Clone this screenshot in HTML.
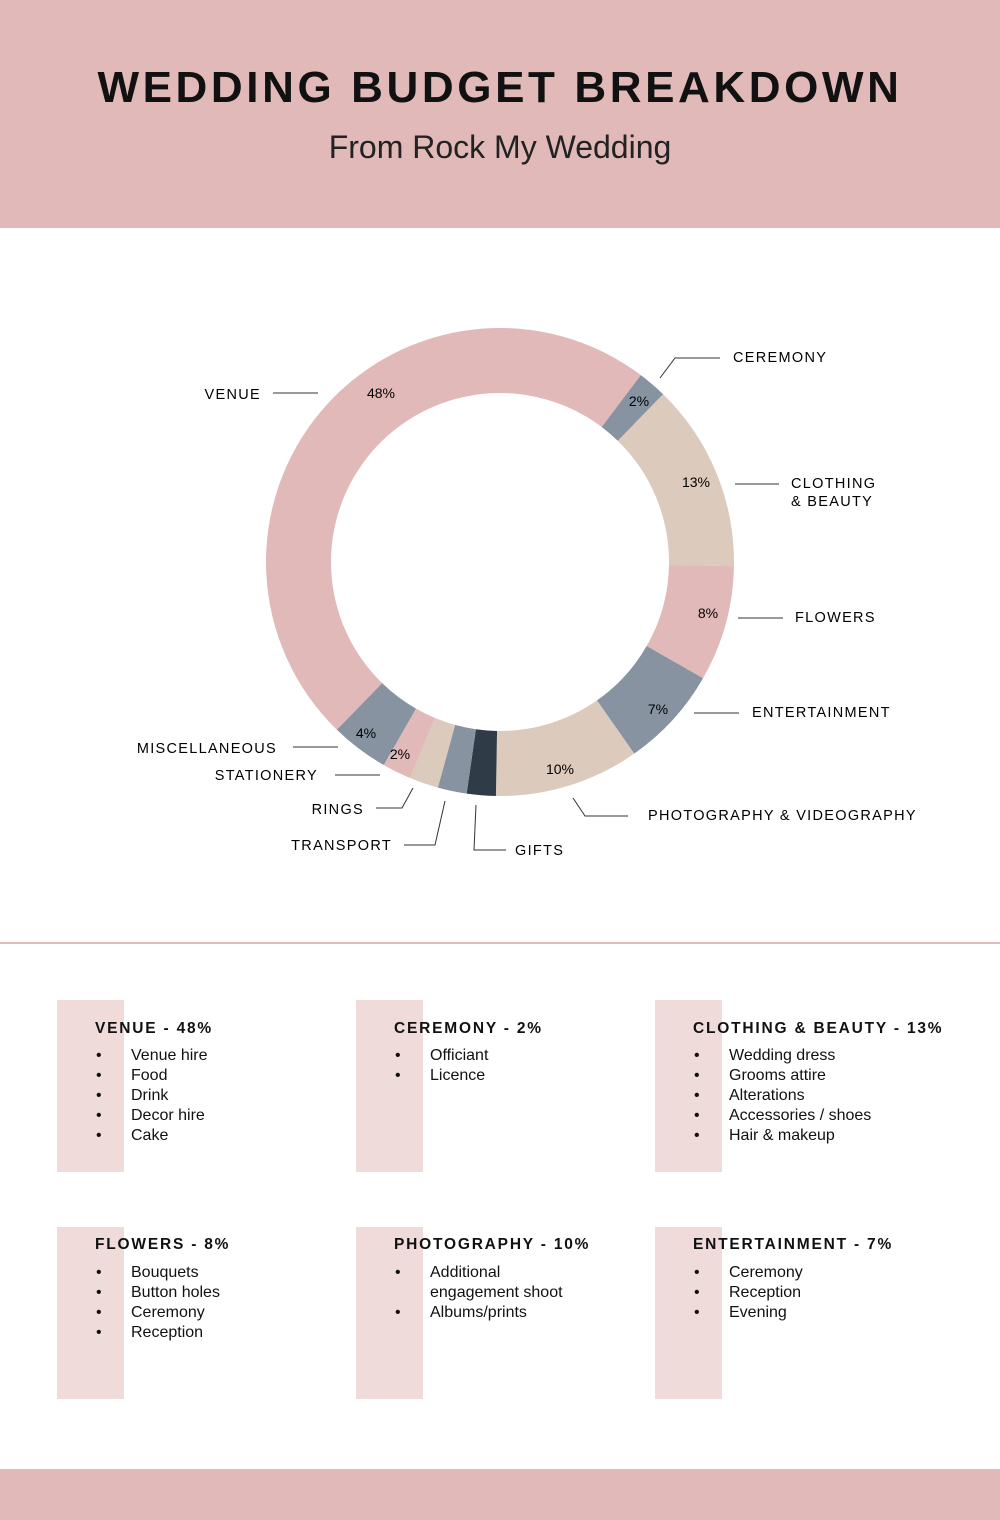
<!DOCTYPE html>
<html><head><meta charset="utf-8"><style>
body{margin:0;width:1000px;height:1520px;background:#fff;font-family:"Liberation Sans",sans-serif;position:relative;overflow:hidden;color:#111}
.hdr{position:absolute;left:0;top:0;width:1000px;height:228px;background:#e1b9b8}
.t{position:absolute;top:63px;width:1000px;text-align:center;font-size:44px;font-weight:bold;letter-spacing:3.6px}
.s{position:absolute;top:129px;width:1000px;text-align:center;font-size:32px;color:#222}
.ft{position:absolute;left:0;top:1469px;width:1000px;height:51px;background:#e1b9b8}
.hr{position:absolute;left:0;top:942px;width:1000px;height:2px;background:#e1b9b8}
.card{position:absolute;width:300px}
.card .bg{position:absolute;left:0;top:0;width:67px;height:172px;background:#f0dbdb}
.card h3{position:absolute;left:38px;top:20px;margin:0;font-size:15.5px;letter-spacing:1.8px;font-weight:bold;white-space:nowrap}
.card ul{position:absolute;left:74px;top:46px;margin:0;padding:0;list-style:none;font-size:16px;line-height:20px}
.card.r2 h3{top:9px}
.card.r2 ul{top:36px}
.card li{position:relative;white-space:nowrap}
.card li:before{content:"•";position:absolute;left:-35px}
.card li.nb:before{content:""}
svg text{font-family:"Liberation Sans",sans-serif}
</style></head><body>
<div class="hdr"></div>
<div class="t">WEDDING BUDGET BREAKDOWN</div>
<div class="s">From Rock My Wedding</div>
<svg id="c" width="1000" height="940" style="position:absolute;left:0;top:0"></svg>
<div class="hr"></div>
<div class="ft"></div>
<div class="card" style="left:57px;top:1000px"><div class="bg"></div><h3>VENUE - 48%</h3><ul><li>Venue hire</li><li>Food</li><li>Drink</li><li>Decor hire</li><li>Cake</li></ul></div>
<div class="card" style="left:356px;top:1000px"><div class="bg"></div><h3>CEREMONY - 2%</h3><ul><li>Officiant</li><li>Licence</li></ul></div>
<div class="card" style="left:655px;top:1000px"><div class="bg"></div><h3>CLOTHING &amp; BEAUTY - 13%</h3><ul><li>Wedding dress</li><li>Grooms attire</li><li>Alterations</li><li>Accessories / shoes</li><li>Hair &amp; makeup</li></ul></div>
<div class="card r2" style="left:57px;top:1227px"><div class="bg"></div><h3>FLOWERS - 8%</h3><ul><li>Bouquets</li><li>Button holes</li><li>Ceremony</li><li>Reception</li></ul></div>
<div class="card r2" style="left:356px;top:1227px"><div class="bg"></div><h3>PHOTOGRAPHY - 10%</h3><ul><li>Additional</li><li class="nb">engagement shoot</li><li>Albums/prints</li></ul></div>
<div class="card r2" style="left:655px;top:1227px"><div class="bg"></div><h3>ENTERTAINMENT - 7%</h3><ul><li>Ceremony</li><li>Reception</li><li>Evening</li></ul></div>
<script>
var P="#e1b9b8",S="#8793a1",B="#dccabc",D="#2f3c47";
var segs=[[48,P],[2,S],[13,B],[8,P],[7,S],[10,B],[2,D],[2,S],[2,B],[2,P],[4,S]];
var cx=500,cy=562,R=234,r=169,a=224.2,h="";
function pt(rad,deg){var t=deg*Math.PI/180;return [cx+rad*Math.sin(t),cy-rad*Math.cos(t)];}
segs.forEach(function(s){var b=a+s[0]*3.6,l=s[0]>50?1:0;var p1=pt(R,a),p2=pt(R,b),p3=pt(r,b),p4=pt(r,a);
h+='<path fill="'+s[1]+'" d="M'+p1+' A'+R+','+R+' 0 '+l+' 1 '+p2+' L'+p3+' A'+r+','+r+' 0 '+l+' 0 '+p4+'Z"/>';a=b;});
var pc=[["48%",381,398],["2%",639,406],["13%",696,487],["8%",708,618],["7%",658,714],["10%",560,774],["4%",366,738],["2%",400,759]];
pc.forEach(function(q){h+='<text x="'+q[1]+'" y="'+q[2]+'" font-size="14" text-anchor="middle">'+q[0]+'</text>';});
var lines=["660,378 675,358 720,358","273,393 318,393","735,484 779,484","738,618 783,618","694,713 739,713","573,798 585,816 628,816","293,747 338,747","335,775 380,775","376,808 402,808 413,788","404,845 435,845 445,801","476,805 474,850 506,850"];
lines.forEach(function(l){h+='<polyline fill="none" stroke="#333" stroke-width="1" points="'+l+'"/>';});
var lb=[["CEREMONY",733,362,"start"],["VENUE",261,399,"end"],["CLOTHING",791,488,"start"],["&amp; BEAUTY",791,506,"start"],["FLOWERS",795,622,"start"],["ENTERTAINMENT",752,717,"start"],["PHOTOGRAPHY &amp; VIDEOGRAPHY",648,820,"start"],["MISCELLANEOUS",277,753,"end"],["STATIONERY",318,780,"end"],["RINGS",364,814,"end"],["TRANSPORT",392,850,"end"],["GIFTS",515,855,"start"]];
lb.forEach(function(q){h+='<text x="'+q[1]+'" y="'+q[2]+'" font-size="14.5" letter-spacing="1.3" text-anchor="'+q[3]+'">'+q[0]+'</text>';});
document.getElementById("c").innerHTML=h;
</script>
</body></html>
